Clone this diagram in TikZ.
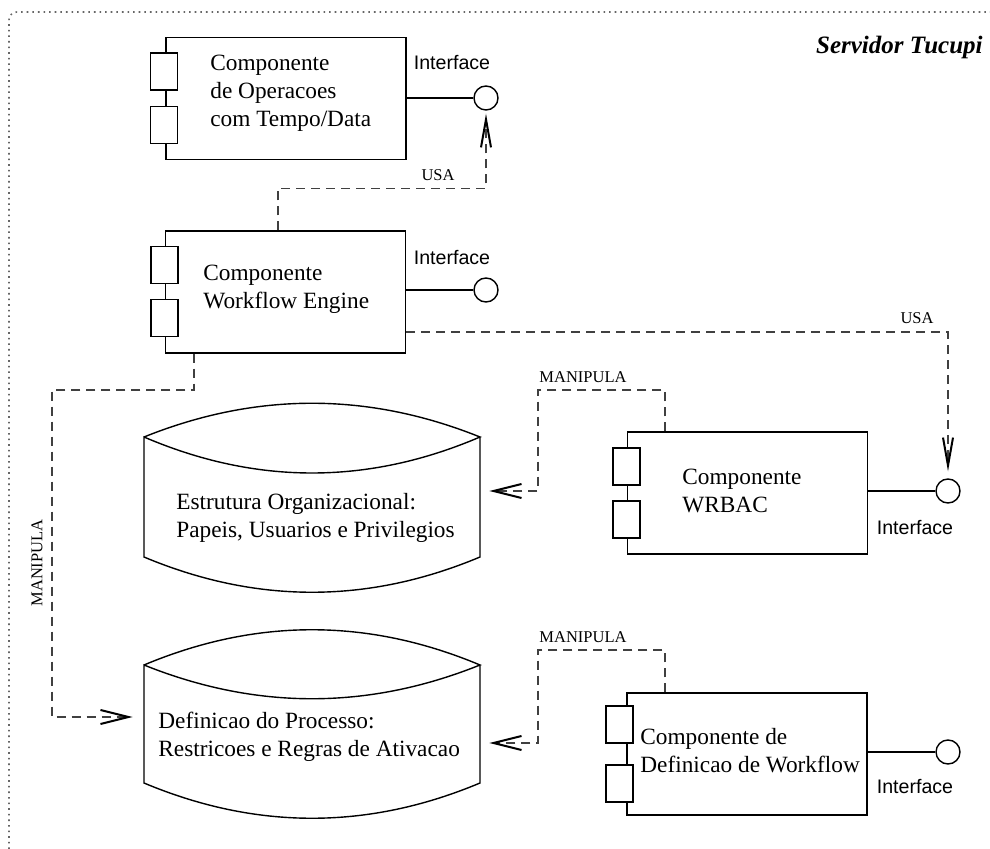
\documentclass[tikz,border=0pt]{standalone}
\usepackage{fontspec}
\setmainfont{Liberation Serif}
\newfontfamily\ifacefont{Liberation Sans}
\usetikzlibrary{arrows.meta,calc}

\begin{document}
\begin{tikzpicture}[x=0.5pt,y=-0.5pt,
  box/.style={draw, line width=0.7pt, minimum width=120pt, minimum height=61pt, inner sep=0pt},
  port/.style={draw, fill=white, line width=0.7pt, minimum width=13.5pt, minimum height=18.5pt, inner sep=0pt},
  iface/.style={draw, circle, line width=0.7pt, minimum size=12pt, inner sep=0pt},
  ilabel/.style={font=\ifacefont\fontsize{9.8}{11}\selectfont, inner sep=0pt},
  ctext/.style={font=\fontsize{11.65}{14}\selectfont, align=left, anchor=west, inner sep=0pt},
  store/.style={draw=none, minimum width=168pt, minimum height=94.5pt, inner sep=0pt},
  storeline/.style={line width=0.7pt},
  dep/.style={draw=black!75, line width=0.7pt, dash pattern=on 4.5pt off 3pt},
  usearrow/.style={-{Straight Barb[length=14pt,width=5pt,line width=1pt,color=black]}},
  manarrow/.style={-{Straight Barb[length=14pt,width=7pt,line width=1pt,color=black]}},
  dlabel/.style={font=\fontsize{8.25}{10}\selectfont, inner sep=0pt},
]
\useasboundingbox (0,0) rectangle (990,849);

% server boundary, open towards the right and bottom edges
\draw[black!60, line width=0.8pt, dotted, rounded corners=4pt] (9,849) -- (9,12) -- (990,12);
\node[anchor=east, font=\bfseries\itshape\fontsize{12.5}{15}\selectfont, inner sep=0pt] (srv) at (983,47) {Servidor Tucupi};

% components
\node[box] (c1) at (286,98.5) {};
\node[box] (c2) at (285.5,292) {};
\node[box] (c3) at (747.5,493) {};
\node[box] (c4) at (747,754) {};

\node[port] (p1a) at (164,71.5) {};
\node[port] (p1b) at (164,125) {};
\node[port] (p2a) at (164.5,265) {};
\node[port] (p2b) at (164.5,318) {};
\node[port] (p3a) at (626.5,466.5) {};
\node[port] (p3b) at (626.5,519.5) {};
\node[port] (p4a) at (619.5,724.5) {};
\node[port] (p4b) at (619.5,783.5) {};

\node[ctext] (t1) at (210,93.5) {Componente\\de Operacoes\\com Tempo/Data};
\node[ctext] (t2) at (203,289) {Componente\\Workflow Engine};
\node[ctext] (t3) at (682,490.5) {Componente\\WRBAC};
\node[ctext] (t4) at (640,750.5) {Componente de\\Definicao de Workflow};

% interfaces
\node[iface] (i1) at (486,98) {};
\node[iface] (i2) at (486,290) {};
\node[iface] (i3) at (948,491) {};
\node[iface] (i4) at (948,752) {};
\draw[line width=0.7pt] (c1.east |- i1.west) -- (i1.west);
\draw[line width=0.7pt] (c2.east |- i2.west) -- (i2.west);
\draw[line width=0.7pt] (c3.east |- i3.west) -- (i3.west);
\draw[line width=0.7pt] (c4.east |- i4.west) -- (i4.west);
\node[ilabel] (l1) at (452,63) {Interface};
\node[ilabel] (l2) at (452,258) {Interface};
\node[ilabel] (l3) at (915,528) {Interface};
\node[ilabel] (l4) at (915,787) {Interface};

% data stores
\node[store] (estr) at (312,497.5) {};
\node[store] (proc) at (312,724) {};
\draw[storeline] (144,437) .. controls (256,392) and (368,392) .. (480,437)
  .. controls (368,485) and (256,485) .. (144,437) -- (144,557)
  .. controls (256,604) and (368,604) .. (480,557) -- (480,437);
\draw[storeline] (144,665) .. controls (256,618) and (368,618) .. (480,665)
  .. controls (368,710) and (256,710) .. (144,665) -- (144,783)
  .. controls (256,830) and (368,830) .. (480,783) -- (480,665);
\node[ctext] (s1) at (176,518) {Estrutura Organizacional:\\Papeis, Usuarios e Privilegios};
\node[ctext] (s2) at (158,737) {Definicao do Processo:\\Restricoes e Regras de Ativacao};

% dependencies
\draw[dep, usearrow, shorten >=1.5pt] ([xshift=-3.75pt]c2.north) -- ++(0,-42) -| (i1.south);
\node[dlabel] (u1) at (438,175) {USA};

\draw[dep, usearrow, shorten >=3.5pt] ([yshift=-20pt]c2.east) -| (i3.north);
\node[dlabel] (u2) at (917,318) {USA};

\coordinate (m1) at (52,390);
\draw[dep, manarrow, shorten >=5.5pt] ([xshift=-45.75pt]c2.south) |- (m1) |- ([yshift=3.5pt]proc.west);
\node[dlabel, rotate=90] (ml1) at (37,563) {MANIPULA};

\coordinate (m2) at (538,390);
\draw[dep, manarrow, shorten >=4.5pt] ([xshift=-41.25pt]c3.north) |- (m2) |- ([yshift=3.25pt]estr.east);
\node[dlabel] (ml2) at (583,377) {MANIPULA};

\coordinate (m3) at (538,650);
\draw[dep, manarrow, shorten >=4.5pt] ([xshift=-41pt]c4.north) |- (m3) |- ([yshift=-9.5pt]proc.east);
\node[dlabel] (ml3) at (583,637) {MANIPULA};
\end{tikzpicture}
\end{document}
